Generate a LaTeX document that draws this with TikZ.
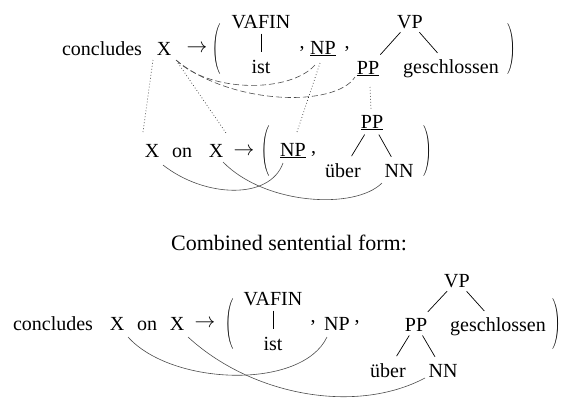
\documentclass[tikz,border=0pt]{standalone}
\usepackage{fontspec}
\usepackage{graphicx}
\setmainfont{Liberation Serif}
\newcommand{\bigL}{\resizebox{8.5pt}{37pt}{$\Bigg($}}
\newcommand{\bigR}{\resizebox{8.5pt}{37pt}{$\Bigg)$}}
\begin{document}
\begin{tikzpicture}[x=1pt,y=-1pt,
  font=\fontsize{20}{24}\selectfont,
  w/.style={inner sep=0pt, anchor=base},
  paren/.style={inner sep=0pt, anchor=center},
  tr/.style={line width=0.7pt, shorten <=5pt, shorten >=8pt},
  dotl/.style={dash pattern=on 0.7pt off 2.3pt, line width=0.7pt, black!85},
  dsh/.style={dash pattern=on 6pt off 3pt, line width=0.6pt, black!70},
  lnk/.style={line width=0.6pt, black!70}]
\useasboundingbox (0,0) rectangle (565,397);

% ---------- top rule ----------
\node[w] (c1) at (102,55) {concludes};
\node[w] (Xa) at (164,55) {X};
\node[w] (ar1) at (197,52) {$\rightarrow$};
\node[paren] (lp1) at (217,48.5) {\bigL};
\node[w] (vafin1) at (261,28) {VAFIN};
\node[w] (ist1) at (261,73) {ist};
\node[w] (cm1) at (302,48) {,};
\node[w] (NPa) at (323,54) {\underline{NP}};
\node[w] (cm2) at (347,48) {,};
\node[w] (VPa) at (410,28) {VP};
\node[w] (PPa) at (368,74) {\underline{PP}};
\node[w] (gea) at (451,73) {geschlossen};
\node[paren] (rp1) at (512,48.5) {\bigR};
\draw[tr] (vafin1) -- (ist1);
\draw[tr] (VPa) -- (PPa);
\draw[tr] (VPa) -- (gea);

% ---------- middle rule ----------
\node[w] (X1m) at (152,157) {X};
\node[w] (onm) at (182,157) {on};
\node[w] (X2m) at (216,157) {X};
\node[w] (ar2) at (244,155) {$\rightarrow$};
\node[paren] (lp2) at (266,151) {\bigL};
\node[w] (NPm) at (293,156) {\underline{NP}};
\node[w] (cm3) at (313.5,153) {,};
\node[w] (PPm) at (372,128) {\underline{PP}};
\node[w] (ueb1) at (343,177) {über};
\node[w] (NNm) at (399,177) {NN};
\node[paren] (rp2) at (428,151) {\bigR};
\draw[tr] (PPm) -- (ueb1);
\draw[tr] (PPm) -- (NNm);

% dotted alignment links
\draw[dotl] ([xshift=-11pt,yshift=-5pt]Xa.base) -- ([xshift=-9pt,yshift=25pt]X1m.base);
\draw[dotl] ([xshift=14pt,yshift=-8pt]Xa.base) -- ([xshift=10pt,yshift=24pt]X2m.base);
\draw[dotl] ([xshift=-3pt,yshift=-9pt]NPa.base) -- ([xshift=4pt,yshift=24pt]NPm.base);
\draw[dotl] ([xshift=2pt,yshift=-13pt]PPa.base) -- ([xshift=-1pt,yshift=18pt]PPm.base);

% dashed links
\draw[dsh] ([xshift=12pt,yshift=-5pt]Xa.base) .. controls +(34,33) and +(-25,28) .. ([xshift=-8pt,yshift=-11pt]NPa.base);
\draw[dsh] ([xshift=12pt,yshift=-5pt]Xa.base) .. controls +(54,45) and +(-20,31) .. ([xshift=-13pt,yshift=-3pt]PPa.base);

% solid links (middle)
\draw[lnk] ([xshift=11pt,yshift=-8pt]X1m.base) .. controls +(42,33) and +(-13,37) .. ([xshift=-10pt,yshift=-7pt]NPm.base);
\draw[lnk] ([xshift=7pt,yshift=-5pt]X2m.base) .. controls +(42,43) and +(-27,27) .. ([xshift=-17pt,yshift=-6pt]NNm.base);

% ---------- title ----------
\node[w, font=\fontsize{22}{26}\selectfont] (title) at (289,250) {Combined sentential form:};

% ---------- bottom ----------
\node[w] (c2) at (53,330) {concludes};
\node[w] (X1b) at (117,330) {X};
\node[w] (onb) at (147,330) {on};
\node[w] (X2b) at (177,330) {X};
\node[w] (ar3) at (205,327) {$\rightarrow$};
\node[paren] (lp3) at (230,324) {\bigL};
\node[w] (vafin2) at (273,305) {VAFIN};
\node[w] (ist2) at (273,350) {ist};
\node[w] (cm4) at (313,322) {,};
\node[w] (NPb) at (337,330) {NP};
\node[w] (cm5) at (357,322) {,};
\node[w] (VPb) at (457,287) {VP};
\node[w] (PPb) at (416,331) {PP};
\node[w] (geb) at (498,331) {geschlossen};
\node[w] (ueb2) at (388,377) {über};
\node[w] (NNb) at (443,377) {NN};
\node[paren] (rp3) at (557,324) {\bigR};
\draw[tr] (vafin2) -- (ist2);
\draw[tr] (VPb) -- (PPb);
\draw[tr] (VPb) -- (geb);
\draw[tr] (PPb) -- (ueb2);
\draw[tr] (PPb) -- (NNb);

\draw[lnk] ([xshift=11pt,yshift=-7pt]X1b.base) .. controls +(44,49) and +(-25,53) .. ([xshift=-10pt,yshift=-7pt]NPb.base);
\draw[lnk] ([xshift=11pt,yshift=-7pt]X2b.base) .. controls +(63,58) and +(-70,37) .. ([xshift=-18pt,yshift=-1pt]NNb.base);
\end{tikzpicture}
\end{document}
